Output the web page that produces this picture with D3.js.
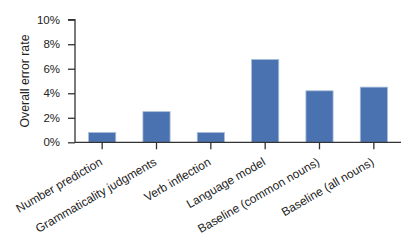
<!DOCTYPE html>
<html><head><meta charset="utf-8">
<script src="https://cdn.jsdelivr.net/npm/d3@7"></script>
<style>body{margin:0;background:#fff}text{font-family:"Liberation Sans",Arial,sans-serif}</style>
</head><body><svg id="c" width="415" height="249"></svg>
<script>
const categories = ["Number prediction","Grammaticality judgments","Verb inflection","Language model","Baseline (common nouns)","Baseline (all nouns)"];
const errorRates = [0.8, 2.5, 0.8, 6.75, 4.2, 4.5];
const yTicks = [0, 2, 4, 6, 8, 10];
const yTitle = "Overall error rate";

(function(){
const svg = d3.select("#c");
const mLeft = 75, mRight = 401, mTop = 19.7, mBottom = 142.3;
const x = d3.scaleBand().domain(categories).range([mLeft, mRight]).paddingInner(0.5).paddingOuter(0.25);
const y = d3.scaleLinear().domain([0, 10]).range([mBottom, mTop]);

svg.append("g").selectAll("rect").data(categories).join("rect")
  .attr("x", d => x(d)).attr("width", x.bandwidth())
  .attr("y", (d,i) => y(errorRates[i])).attr("height", (d,i) => y(0) - y(errorRates[i]))
  .attr("fill", "#4a72b0").attr("stroke", "#a9bddb").attr("stroke-width", 0.8);

const ya = svg.append("g").attr("transform", `translate(${mLeft},0)`)
  .call(d3.axisLeft(y).tickValues(yTicks).tickFormat(d => d + "%").tickSize(7).tickPadding(8));
ya.select(".domain").attr("d", `M-7,${y(10)}H0V${y(0)}`);
ya.selectAll("text").attr("font-size", 11.5).attr("fill", "#222").attr("font-family", "Liberation Sans, Arial, sans-serif");
ya.selectAll("line,path").attr("stroke", "#333").attr("stroke-width", 1.3);

const xa = svg.append("g").attr("transform", `translate(0,${mBottom})`)
  .call(d3.axisBottom(x).tickSize(7).tickSizeOuter(0));
xa.select(".domain").attr("d", `M${mLeft},0H${mRight}`);
xa.selectAll("line,path").attr("stroke", "#333").attr("stroke-width", 1.3);
xa.selectAll("text").attr("font-size", 11.9).attr("fill", "#222").attr("font-family", "Liberation Sans, Arial, sans-serif")
  .attr("text-anchor", "end").attr("dy", 0).attr("y", 0)
  .attr("transform", "translate(1,22) rotate(-30)");

svg.append("text").attr("transform", `translate(29,${(mTop+mBottom)/2}) rotate(-90)`)
  .attr("text-anchor", "middle").attr("font-size", 12.3).attr("fill", "#222").text(yTitle);
})();
</script></body></html>
